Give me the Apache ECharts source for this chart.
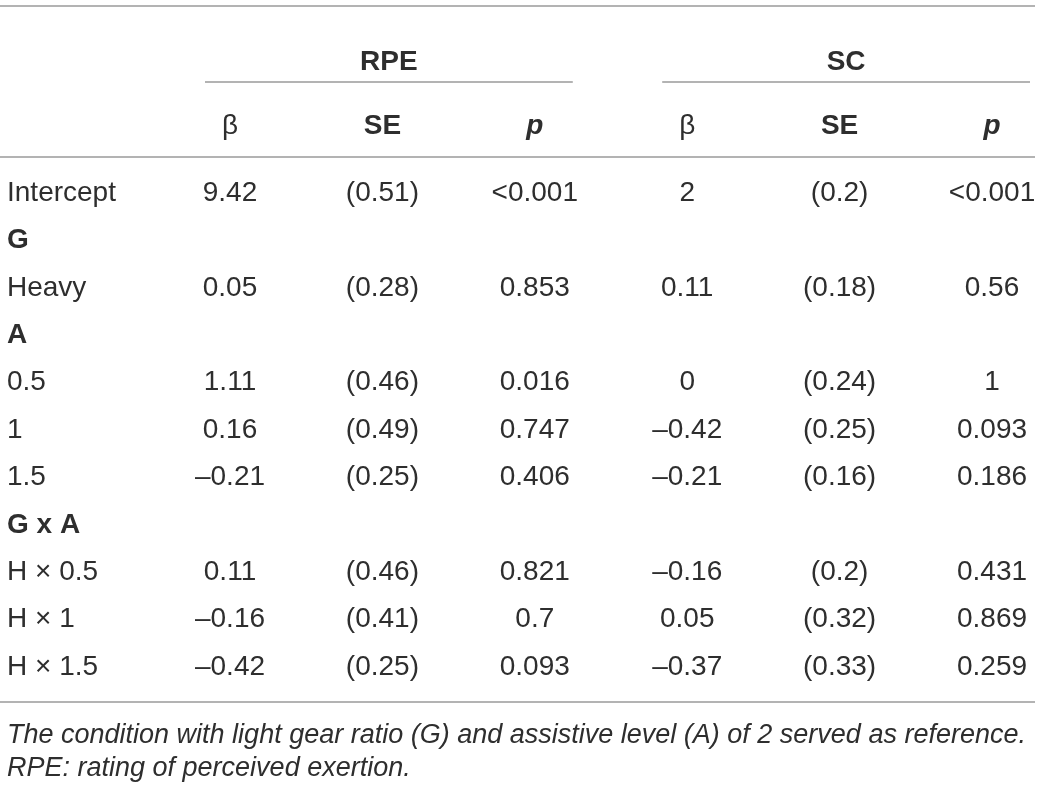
<!DOCTYPE html>
<html>
<head>
<meta charset="utf-8">
<script src="https://cdn.jsdelivr.net/npm/echarts@6/dist/echarts.min.js"></script>
<style>
html, body { margin: 0; padding: 0; background: #fff; }
#main { width: 1040px; height: 789px; }
</style>
</head>
<body>
<div id="main"></div>
<script>
// 表格内容
var rowLabels = ['Intercept', 'G', 'Heavy', 'A', '0.5', '1', '1.5', 'G x A', 'H × 0.5', 'H × 1', 'H × 1.5'];
var sectionRows = ['G', 'A', 'G x A'];
var groupHeaders = ['RPE', 'SC'];
var colHeaders = ['β', 'SE', 'p', 'β', 'SE', 'p'];

var rpeBeta = ['9.42', '', '0.05', '', '1.11', '0.16', '–0.21', '', '0.11', '–0.16', '–0.42'];
var rpeSE   = ['(0.51)', '', '(0.28)', '', '(0.46)', '(0.49)', '(0.25)', '', '(0.46)', '(0.41)', '(0.25)'];
var rpeP    = ['<0.001', '', '0.853', '', '0.016', '0.747', '0.406', '', '0.821', '0.7', '0.093'];
var scBeta  = ['2', '', '0.11', '', '0', '–0.42', '–0.21', '', '–0.16', '0.05', '–0.37'];
var scSE    = ['(0.2)', '', '(0.18)', '', '(0.24)', '(0.25)', '(0.16)', '', '(0.2)', '(0.32)', '(0.33)'];
var scP     = ['<0.001', '', '0.56', '', '1', '0.093', '0.186', '', '0.431', '0.869', '0.259'];

var footnote = [
  'The condition with light gear ratio (G) and assistive level (A) of 2 served as reference.',
  'RPE: rating of perceived exertion.'
];

var columns = [rpeBeta, rpeSE, rpeP, scBeta, scSE, scP];

var FONT = '"Liberation Sans", Arial, Helvetica, sans-serif';
var TEXT = '#2e2e2e';
var RULE = '#9a9a9a';

var myChart = echarts.init(document.getElementById('main'));

// 每一列做成一个 scatter，只显示标签
var series = columns.map(function (col, c) {
  var data = [];
  col.forEach(function (v, r) {
    if (v !== '') data.push([c, r, v]);
  });
  return {
    type: 'scatter',
    symbolSize: 0,
    silent: true,
    itemStyle: { opacity: 1 },
    data: data,
    label: {
      show: true,
      position: [0, 0],
      align: 'center',
      verticalAlign: 'middle',
      formatter: function (p) { return p.value[2]; },
      color: TEXT,
      textBorderWidth: 0,
      textBorderColor: 'transparent',
      fontFamily: FONT,
      fontSize: 28
    }
  };
});

var option = {
  animation: false,
  grid: { left: 230, right: 48, top: 193, bottom: 122 },
  xAxis: {
    type: 'category',
    position: 'top',
    boundaryGap: false,
    data: colHeaders,
    axisLine: { show: false },
    axisTick: { show: false },
    splitLine: { show: false },
    axisLabel: {
      interval: 0,
      margin: 67,
      verticalAlign: 'middle',
      color: TEXT,
      fontFamily: FONT,
      fontSize: 28,
      formatter: function (v) {
        if (v === 'p') return '{p|p}';
        if (v === 'SE') return '{b|SE}';
        return v;
      },
      rich: {
        p: { fontWeight: 'bold', fontStyle: 'italic', fontSize: 28, fontFamily: FONT, color: TEXT },
        b: { fontWeight: 'bold', fontSize: 28, fontFamily: FONT, color: TEXT }
      }
    }
  },
  yAxis: {
    type: 'category',
    inverse: true,
    boundaryGap: false,
    data: rowLabels,
    axisLine: { show: false },
    axisTick: { show: false },
    splitLine: { show: false },
    axisLabel: {
      interval: 0,
      align: 'left',
      margin: 223,
      color: TEXT,
      fontFamily: FONT,
      fontSize: 28,
      formatter: function (v) {
        return sectionRows.indexOf(v) >= 0 ? '{b|' + v + '}' : v;
      },
      rich: {
        b: { fontWeight: 'bold', fontSize: 28, fontFamily: FONT, color: TEXT }
      }
    }
  },
  series: series
};

myChart.setOption(option);

// 表头分组、横线、脚注
var colX = colHeaders.map(function (h, i) { return myChart.convertToPixel({ xAxisIndex: 0 }, i); });
var graphics = [];
function rule(x1, x2, y) {
  graphics.push({
    type: 'line',
    shape: { x1: x1, y1: y, x2: x2, y2: y },
    style: { stroke: RULE, lineWidth: 1.5 },
    silent: true
  });
}
rule(0, 1035, 6);
rule(0, 1035, 157);
rule(0, 1035, 702);

groupHeaders.forEach(function (g, k) {
  var x1 = colX[k * 3] - 25;
  var x2 = Math.min(colX[k * 3 + 2] + 38, 1035);
  rule(x1, x2, 82);
  graphics.push({
    type: 'text',
    x: (x1 + x2) / 2,
    y: 62,
    silent: true,
    style: {
      text: g,
      fill: TEXT,
      font: 'bold 28px ' + FONT,
      textAlign: 'center',
      textVerticalAlign: 'middle'
    }
  });
});

footnote.forEach(function (line, i) {
  graphics.push({
    type: 'text',
    x: 7,
    y: 735 + i * 33,
    silent: true,
    style: {
      text: line,
      fill: TEXT,
      font: 'italic 27px ' + FONT,
      textAlign: 'left',
      textVerticalAlign: 'middle'
    }
  });
});

myChart.setOption({ graphic: graphics });
</script>
</body>
</html>
